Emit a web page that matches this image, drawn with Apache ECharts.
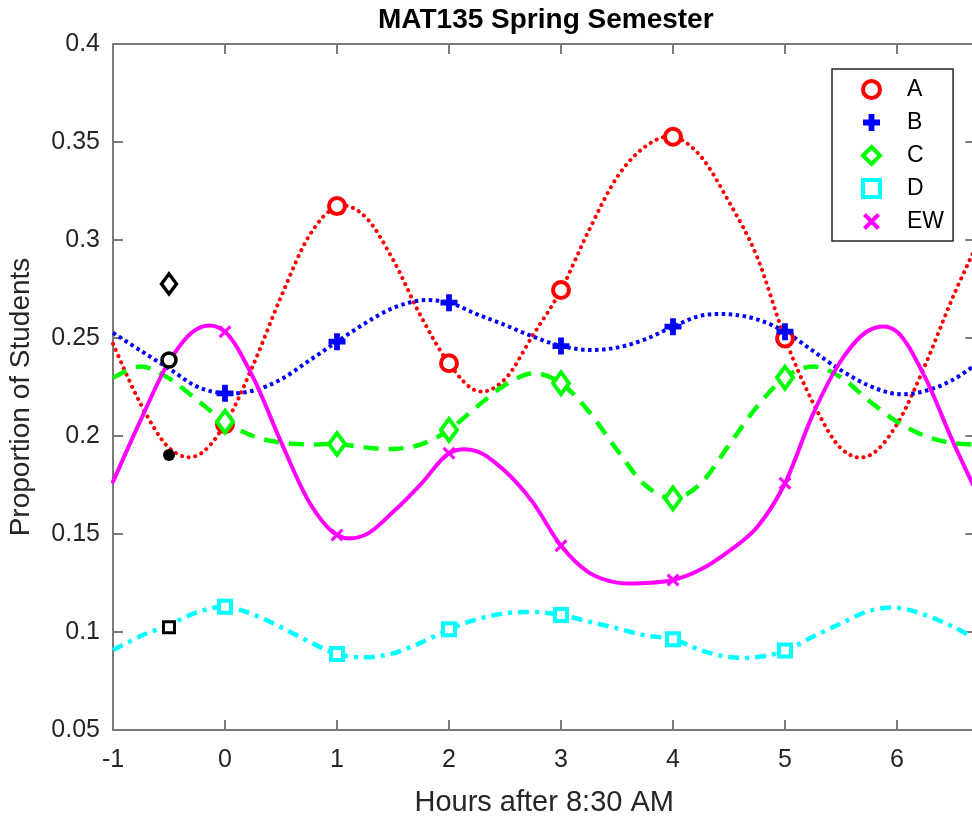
<!DOCTYPE html>
<html>
<head>
<meta charset="utf-8">
<script src="https://cdn.jsdelivr.net/npm/echarts@6/dist/echarts.min.js"></script>
<style>
html,body{margin:0;padding:0;background:#fff;}
#chart{width:972px;height:816px;}
</style>
</head>
<body>
<div id="chart"></div>
<script>
// ---- data ----
const hours = [0, 1, 2, 3, 4, 5];
const markA = [0.206, 0.3173, 0.2371, 0.2745, 0.3527, 0.2498];
const markB = [0.2218, 0.2481, 0.268, 0.2459, 0.2558, 0.2532];
const markC = [0.2073, 0.1959, 0.2031, 0.2269, 0.1682, 0.2298];
const markD = [0.1129, 0.0888, 0.1014, 0.1087, 0.0963, 0.0905];
const markEW = [0.2532, 0.1495, 0.1912, 0.144, 0.1265, 0.1759];

// curve samples read every 0.25 h
const curveX = [-1, -0.75, -0.5, -0.25, 0, 0.25, 0.5, 0.75, 1, 1.25, 1.5, 1.75, 2, 2.25, 2.5, 2.75,
  3, 3.25, 3.5, 3.75, 4, 4.25, 4.5, 4.75, 5, 5.25, 5.5, 5.75, 6, 6.25, 6.5, 6.75];
const curveA = [0.247, 0.216, 0.194, 0.190, 0.206, 0.236, 0.271, 0.302, 0.317, 0.312, 0.290, 0.261,
  0.237, 0.223, 0.229, 0.2515, 0.2745, 0.305, 0.332, 0.3476, 0.3527, 0.3425, 0.3194, 0.2915,
  0.2498, 0.217, 0.1937, 0.190, 0.206, 0.236, 0.271, 0.302];
const curveB = [0.2527, 0.2434, 0.2344, 0.2252, 0.2218, 0.2231, 0.2289, 0.2384, 0.2481, 0.2575, 0.2653, 0.2692,
  0.268, 0.2621, 0.2566, 0.2507, 0.2459, 0.2439, 0.2451, 0.2493, 0.2558, 0.2614, 0.2621, 0.2595,
  0.2532, 0.2434, 0.2335, 0.2257, 0.2214, 0.2230, 0.2287, 0.2384];
const curveC = [0.2298, 0.2354, 0.2294, 0.2184, 0.2073, 0.200, 0.1966, 0.1957, 0.1959, 0.1942, 0.1934, 0.1957,
  0.2031, 0.215, 0.226, 0.232, 0.2269, 0.2124, 0.1929, 0.175, 0.1682, 0.1759, 0.1954, 0.215,
  0.2298, 0.2354, 0.2299, 0.218, 0.2073, 0.200, 0.1964, 0.1957];
const curveD = [0.0908, 0.098, 0.1037, 0.110, 0.1129, 0.109, 0.1024, 0.0951, 0.0888, 0.0871, 0.0891, 0.0946,
  0.1014, 0.1065, 0.1095, 0.1102, 0.1087, 0.1053, 0.1019, 0.0983, 0.0963, 0.0907, 0.0872, 0.0872,
  0.0905, 0.0976, 0.1044, 0.1107, 0.1124, 0.1087, 0.1027, 0.0951];
const curveEW = [0.1767, 0.2085, 0.2379, 0.2546, 0.2532, 0.230, 0.197, 0.1665, 0.1495, 0.1495, 0.1612, 0.1755,
  0.1912, 0.1922, 0.1821, 0.166, 0.144, 0.1303, 0.1252, 0.1250, 0.1265, 0.132, 0.1413, 0.1534,
  0.1759, 0.2112, 0.2384, 0.2539, 0.2532, 0.230, 0.197, 0.1665];

// black markers at x = -0.5
const blackX = -0.5;
const blackVals = [0.2776, 0.2388, 0.1903, 0.1024];

const seriesNames = ['A', 'B', 'C', 'D', 'EW'];
const yTicks = [0.05, 0.1, 0.15, 0.2, 0.25, 0.3, 0.35, 0.4];

// ---- styling ----
const FONT = 'Liberation Sans, Arial, Helvetica, sans-serif';
const AXIS = '#7a7a7a';
const TXT = '#262626';
const plusPath = 'path://M3.3,0 H6.7 V3.3 H10 V6.7 H6.7 V10 H3.3 V6.7 H0 V3.3 H3.3 Z';
const xPath = 'path://M0,1.7 L1.7,0 L5,3.3 L8.3,0 L10,1.7 L6.7,5 L10,8.3 L8.3,10 L5,6.7 L1.7,10 L0,8.3 L3.3,5 Z';

function pairs(xs, ys) { return xs.map((x, i) => [x, ys[i]]); }

// Catmull-Rom path through pixel points (drawing only)
function splinePath(p) {
  const n = p.length;
  let d = 'M' + p[0][0].toFixed(2) + ',' + p[0][1].toFixed(2);
  for (let i = 0; i < n - 1; i++) {
    const p0 = p[Math.max(i - 1, 0)], p1 = p[i], p2 = p[i + 1], p3 = p[Math.min(i + 2, n - 1)];
    const c1x = p1[0] + (p2[0] - p0[0]) / 6, c1y = p1[1] + (p2[1] - p0[1]) / 6;
    const c2x = p2[0] - (p3[0] - p1[0]) / 6, c2y = p2[1] - (p3[1] - p1[1]) / 6;
    d += ' C' + c1x.toFixed(2) + ',' + c1y.toFixed(2) + ' ' + c2x.toFixed(2) + ',' + c2y.toFixed(2) +
      ' ' + p2[0].toFixed(2) + ',' + p2[1].toFixed(2);
  }
  return d;
}

const marks = [markA, markB, markC, markD, markEW];
const curves = [curveA, curveB, curveC, curveD, curveEW];
const colors = ['#ff0000', '#0000ff', '#00ff00', '#00ffff', '#ff00ff'];
const lineStyles = [
  {lineWidth: 4, lineDash: [0.1, 6.6], lineCap: 'round'},
  {lineWidth: 4, lineDash: [3.5, 3.5], lineCap: 'butt'},
  {lineWidth: 4.5, lineDash: [15, 10], lineCap: 'butt'},
  {lineWidth: 4.5, lineDash: [11, 6, 4, 6], lineCap: 'butt'},
  {lineWidth: 4, lineDash: null, lineCap: 'round'}
];
const markStyles = [
  {symbol: 'circle', symbolSize: 16, itemStyle: {color: '#fff', borderColor: '#ff0000', borderWidth: 4, opacity: 1}},
  {symbol: plusPath, symbolSize: 17, itemStyle: {color: '#0000ff', borderWidth: 0, opacity: 1}},
  {symbol: 'diamond', symbolSize: [16, 22], itemStyle: {color: '#fff', borderColor: '#00ff00', borderWidth: 4, opacity: 1}},
  {symbol: 'rect', symbolSize: 12, itemStyle: {color: '#fff', borderColor: '#00ffff', borderWidth: 4, opacity: 1}},
  {symbol: xPath, symbolSize: 13, itemStyle: {color: '#ff00ff', borderWidth: 0, opacity: 1}}
];
const legendItemStyles = [
  {borderWidth: 4}, {borderWidth: 0}, {borderWidth: 4}, {borderWidth: 4}, {borderWidth: 0}
];
const blackStyles = [
  {symbol: 'diamond', symbolSize: [15, 20], itemStyle: {color: '#fff', borderColor: '#000', borderWidth: 3.5, opacity: 1}},
  {symbol: 'circle', symbolSize: 14, itemStyle: {color: '#fff', borderColor: '#000', borderWidth: 3.5, opacity: 1}},
  {symbol: 'circle', symbolSize: 12, itemStyle: {color: '#000', borderWidth: 0, opacity: 1}},
  {symbol: 'rect', symbolSize: 11, itemStyle: {color: '#fff', borderColor: '#000', borderWidth: 3, opacity: 1}}
];

const series = [];
seriesNames.forEach((n, i) => {
  const ys = curves[i];
  series.push({
    name: n + ' fit', type: 'custom', coordinateSystem: 'cartesian2d', silent: true, z: 2,
    data: pairs(curveX, ys),
    encode: {x: 0, y: 1},
    renderItem: function (params, api) {
      if (params.dataIndex !== 0) return null;
      const pts = curveX.map((x, k) => api.coord([x, ys[k]]));
      return {
        type: 'path', silent: true,
        shape: {pathData: splinePath(pts)},
        style: Object.assign({fill: 'none', stroke: colors[i]}, lineStyles[i])
      };
    }
  });
});
seriesNames.forEach((n, i) => {
  series.push(Object.assign({
    name: n, type: 'scatter', data: pairs(hours, marks[i]), z: 3, silent: true
  }, markStyles[i]));
});
series.push({
  name: 'black', type: 'scatter', z: 3, silent: true,
  data: blackVals.map((v, i) => Object.assign({value: [blackX, v]}, blackStyles[i]))
});

const chart = echarts.init(document.getElementById('chart'), null, {renderer: 'canvas'});
chart.setOption({
  animation: false,
  backgroundColor: '#fff',
  title: {
    text: 'MAT135 Spring Semester', left: 373, top: 1,
    textStyle: {fontFamily: FONT, fontSize: 28, fontWeight: 'bold', color: '#000'}
  },
  legend: {
    data: seriesNames.map((n, i) => ({name: n, itemStyle: legendItemStyles[i]})),
    orient: 'vertical', left: 832, top: 69,
    padding: [9, 9, 8, 29],
    itemWidth: 17, itemHeight: 17, itemGap: 10,
    backgroundColor: '#fff', borderColor: '#262626', borderWidth: 1.5,
    textStyle: {fontFamily: FONT, fontSize: 23, color: '#000', lineHeight: 23, padding: [0, 0, 0, 22]},
    selectedMode: false
  },
  grid: {left: 113, top: 44, bottom: 86, right: -3.4, containLabel: false, outerBoundsMode: 'none'},
  xAxis: [{
    type: 'value', min: -1, max: 6.7, interval: 1, position: 'bottom',
    name: 'Hours after 8:30 AM', nameLocation: 'middle', nameGap: 58,
    nameTextStyle: {fontFamily: FONT, fontSize: 29, color: TXT},
    axisLine: {show: true, onZero: false, lineStyle: {color: AXIS, width: 2}},
    axisTick: {show: true, inside: true, length: 10, lineStyle: {color: AXIS, width: 2}},
    axisLabel: {fontFamily: FONT, fontSize: 25, color: TXT, margin: 18, showMaxLabel: false,
      formatter: v => (Number.isInteger(v) ? String(v) : '')},
    splitLine: {show: false}
  }, {
    type: 'value', min: -1, max: 6.7, interval: 1, position: 'top',
    axisLine: {show: true, onZero: false, lineStyle: {color: AXIS, width: 2}},
    axisTick: {show: true, inside: true, length: 10, lineStyle: {color: AXIS, width: 2}},
    axisLabel: {show: false}, splitLine: {show: false}
  }],
  yAxis: [{
    type: 'value', min: yTicks[0], max: yTicks[yTicks.length - 1], interval: 0.05, position: 'left',
    name: 'Proportion of Students', nameLocation: 'middle', nameGap: 78,
    nameTextStyle: {fontFamily: FONT, fontSize: 28, color: TXT, padding: [0, 20, 0, 0]},
    axisLine: {show: true, onZero: false, lineStyle: {color: AXIS, width: 2}},
    axisTick: {show: true, inside: true, length: 10, lineStyle: {color: AXIS, width: 2}},
    axisLabel: {fontFamily: FONT, fontSize: 25, color: TXT, margin: 13,
      formatter: v => String(+v.toFixed(2))},
    splitLine: {show: false}
  }, {
    type: 'value', min: yTicks[0], max: yTicks[yTicks.length - 1], interval: 0.05, position: 'right',
    axisLine: {show: true, onZero: false, lineStyle: {color: AXIS, width: 2}},
    axisTick: {show: true, inside: true, length: 10, lineStyle: {color: AXIS, width: 2}},
    axisLabel: {show: false}, splitLine: {show: false}
  }],
  series: series
});
</script>
</body>
</html>
